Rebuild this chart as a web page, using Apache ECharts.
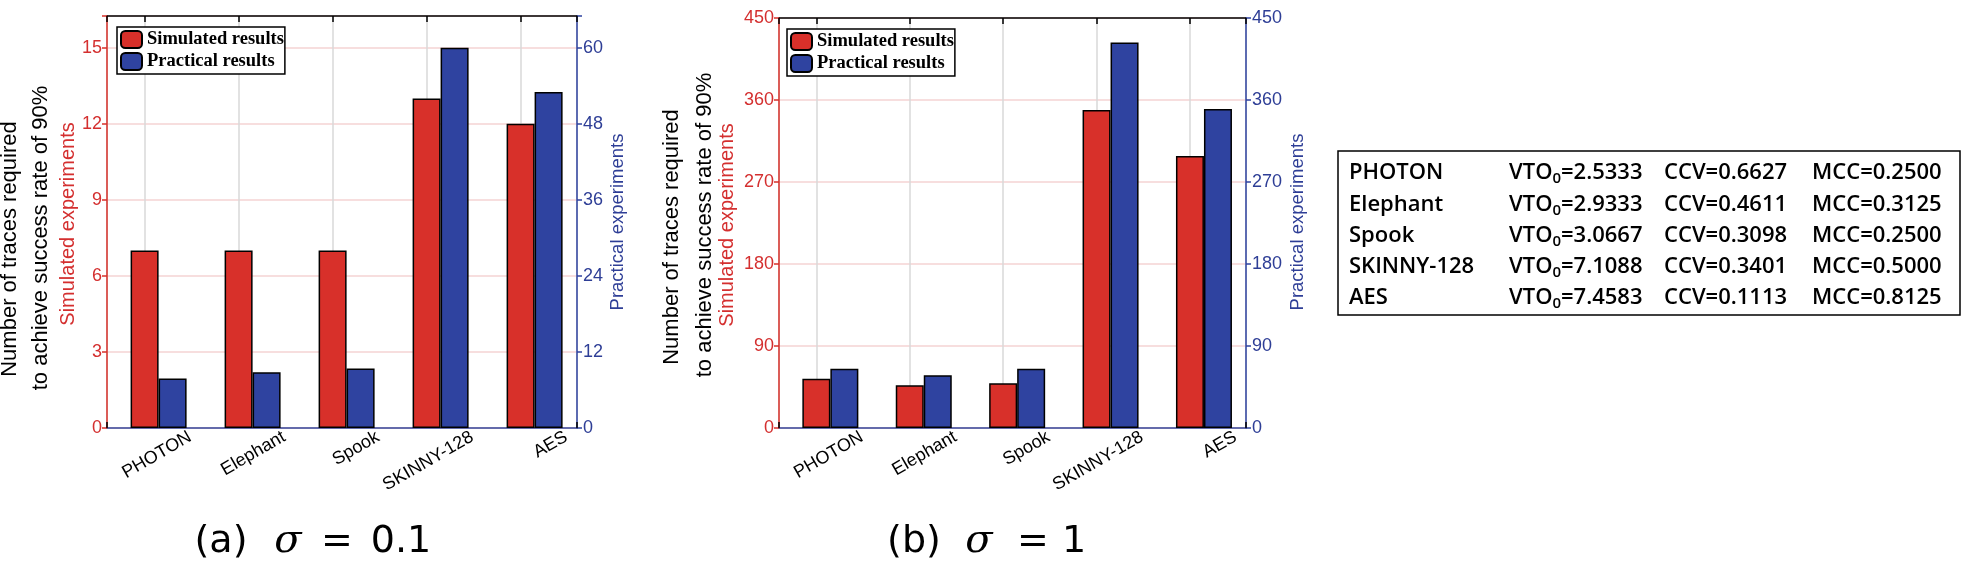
<!DOCTYPE html>
<html><head><meta charset="utf-8">
<script src="https://cdn.jsdelivr.net/npm/echarts@6/dist/echarts.min.js"></script>
<style>html,body{margin:0;padding:0;background:#fff}#c{width:1968px;height:565px}</style>
</head><body><div id="c"></div>
<script>
// ---------- data ----------
const categories = ['PHOTON', 'Elephant', 'Spook', 'SKINNY-128', 'AES'];
// (a) sigma = 0.1
const simA  = [7, 7, 7, 13, 12];
const pracA = [7.8, 8.8, 9.4, 60, 53];
// (b) sigma = 1
const simB  = [54, 47, 49, 349, 298.5];
const pracB = [65, 58, 65, 423, 350];
// axis ranges / tick steps
const leftA  = {max: 16.25, step: 3};
const rightA = {max: 65, step: 12};
const leftB  = {max: 450, step: 90};
const rightB = {max: 450, step: 90};
// side table
const tableNames = ['PHOTON', 'Elephant', 'Spook', 'SKINNY-128', 'AES'];
const vto0 = ['2.5333', '2.9333', '3.0667', '7.1088', '7.4583'];
const ccv  = ['0.6627', '0.4611', '0.3098', '0.3401', '0.1113'];
const mcc  = ['0.2500', '0.3125', '0.2500', '0.5000', '0.8125'];
const legendNames = ['Simulated results', 'Practical results'];
const axisNames = ['Simulated experiments', 'Practical experiments'];
const yTitle = ['Number of traces required', 'to achieve success rate of 90%'];
const captionA = ['(a)', 'σ', '=', '0.1'];
const captionB = ['(b)', 'σ', '=', '1'];

// ---------- styles ----------
const RED = '#d8302a', BLUE = '#2f43a0';
const RED_T = '#d42f2f', BLUE_T = '#2e3e96';
const FONT = 'Liberation Sans, Arial, Helvetica, sans-serif';

function xAxes(grid) {
  return [
    {gridIndex: grid, type: 'value', min: 0.6, max: 5.6, splitNumber: 5, position: 'bottom',
     axisLine: {onZero: false, lineStyle: {color: '#34459a', width: 1.5}},
     axisTick: {show: true, inside: true, length: 6, lineStyle: {color: '#000', width: 1.5}},
     axisLabel: {show: false},
     splitLine: {show: true, lineStyle: {color: '#d9d9d9', width: 1.5}}},
    {gridIndex: grid, type: 'value', min: 0.6, max: 5.6, splitNumber: 5, position: 'top',
     axisLine: {onZero: false, lineStyle: {color: '#000', width: 1.5}},
     axisTick: {show: true, inside: true, length: 6, lineStyle: {color: '#000', width: 1.5}},
     axisLabel: {show: false}, splitLine: {show: false}}
  ];
}
function yAxis(grid, pos, rng, col, tcol, margin, split) {
  return {gridIndex: grid, type: 'value', min: 0, max: rng.max, interval: rng.step, position: pos,
    axisLine: {show: true, onZero: false, lineStyle: {color: col, width: 1.5}},
    axisTick: {show: true, length: 5, lineStyle: {color: col, width: 1.5}},
    axisLabel: {color: tcol, fontSize: 18, fontFamily: FONT, margin: margin,
      formatter: v => (Math.abs(v / rng.step - Math.round(v / rng.step)) < 1e-6 ? String(v) : '')},
    splitLine: {show: split, lineStyle: {color: '#f4d3d3', width: 1.5}}};
}
function bars(xi, yl, yr, sim, prac) {
  const common = {type: 'bar', xAxisIndex: xi, barWidth: 28, barGap: '0%', z: 3};
  return [
    Object.assign({}, common, {name: 'pad', yAxisIndex: yl, data: [], silent: true}),
    Object.assign({}, common, {name: legendNames[0], yAxisIndex: yl,
      data: sim.map((v, i) => [i + 1, v]),
      itemStyle: {color: RED, borderColor: '#000', borderWidth: 1.5}}),
    Object.assign({}, common, {name: legendNames[1], yAxisIndex: yr,
      data: prac.map((v, i) => [i + 1, v]),
      itemStyle: {color: BLUE, borderColor: '#000', borderWidth: 1.5}})
  ];
}
function legend(left, top) {
  return {left: left, top: top, orient: 'vertical', data: legendNames,
    itemWidth: 21, itemHeight: 17, itemGap: 3, padding: [3, 1, 3, 3],
    borderColor: '#000', borderWidth: 1.5, backgroundColor: '#fff', selectedMode: false,
    textStyle: {fontFamily: 'Liberation Serif, Times New Roman, serif', fontWeight: 'bold', fontSize: 18.5, color: '#000'}};
}

// ---------- graphics (text blocks) ----------
const graphic = [];
function vtext(txt, cx, cy, size, color) {
  graphic.push({type: 'text', x: cx, y: cy, rotation: Math.PI / 2,
    style: {text: txt, x: 0, y: 0, align: 'center', verticalAlign: 'middle',
      font: size + 'px ' + FONT, fill: color}});
}
// chart (a) titles
vtext(yTitle[0], 10, 249, 22, '#000');
vtext(yTitle[1], 41, 238, 22, '#000');
vtext(axisNames[0], 68, 224, 20, RED_T);
vtext(axisNames[1], 618, 222, 18.5, BLUE_T);
// chart (b) titles
vtext(yTitle[0], 672, 237, 22, '#000');
vtext(yTitle[1], 705, 225, 22, '#000');
vtext(axisNames[0], 727, 225, 20, RED_T);
vtext(axisNames[1], 1298, 222, 18.5, BLUE_T);

function caption(parts, xs, mid) {
  parts.forEach((p, k) => {
    const italic = k === 1;
    graphic.push({type: 'text', x: xs[k], y: mid,
      style: {text: p, x: 0, y: 0, align: 'center', verticalAlign: 'middle',
        fontFamily: italic ? 'DejaVu Serif, serif' : 'DejaVu Sans, sans-serif',
        fontStyle: italic ? 'italic' : 'normal', fontSize: italic ? 40 : 38, fill: '#000'}});
  });
}
caption(captionA, [221, 288, 337, 401], 542);
caption(captionB, [914, 979, 1033, 1074], 542);

// table
graphic.push({type: 'rect', shape: {x: 1338, y: 151, width: 622, height: 164},
  style: {fill: '#fff', stroke: '#000', lineWidth: 1.5}});
const TF = 'Open Sans, Noto Sans, sans-serif';
const colX = [1349, 1509, 1664, 1812];
const rowY0 = 173, rowStep = 31.3;
tableNames.forEach((n, i) => {
  const y = rowY0 + i * rowStep;
  const base = {fontFamily: TF, fontWeight: 600, fontSize: 22, fill: '#000'};
  graphic.push({type: 'text', x: colX[0], y: y, style: Object.assign({text: n, verticalAlign: 'middle'}, base)});
  graphic.push({type: 'text', x: colX[1], y: y,
    style: {text: '{a|VTO}{s|0}{a|=' + vto0[i] + '}', verticalAlign: 'middle',
      rich: {a: Object.assign({}, base), s: Object.assign({}, base, {fontSize: 15, padding: [12, 0, 0, 0]})}}});
  graphic.push({type: 'text', x: colX[2], y: y, style: Object.assign({text: 'CCV=' + ccv[i], verticalAlign: 'middle'}, base)});
  graphic.push({type: 'text', x: colX[3], y: y, style: Object.assign({text: 'MCC=' + mcc[i], verticalAlign: 'middle'}, base)});
});

const option = {
  animation: false,
  backgroundColor: '#fff',
  grid: [
    {left: 107, top: 16, width: 470, height: 412, containLabel: false, outerBoundsMode: 'none'},
    {left: 779, top: 18, width: 467, height: 410, containLabel: false, outerBoundsMode: 'none'}
  ],
  xAxis: [].concat(xAxes(0), xAxes(1)),
  yAxis: [
    yAxis(0, 'left', leftA, RED, RED_T, 5, true),
    yAxis(0, 'right', rightA, BLUE, BLUE_T, 6, false),
    yAxis(1, 'left', leftB, RED, RED_T, 5, true),
    yAxis(1, 'right', rightB, BLUE, BLUE_T, 6, false)
  ],
  legend: [legend(117, 27), legend(787, 29)],
  series: [].concat(bars(0, 0, 1, simA, pracA), bars(2, 2, 3, simB, pracB)),
  graphic: graphic
};
const chart = echarts.init(document.getElementById('c'), null, {renderer: 'canvas'});
chart.setOption(option);

// rotated category labels (30°), placed at the x-axis tick positions from the library's scale
const tickLabels = [];
[[0, 0], [2, 2]].forEach(([xi, yi]) => {
  const y0 = chart.convertToPixel({yAxisIndex: yi}, 0);
  categories.forEach((c, i) => {
    const px = chart.convertToPixel({xAxisIndex: xi}, i + 1);
    tickLabels.push({type: 'text', x: px + 41, y: y0, rotation: Math.PI / 6,
      style: {text: c, x: 0, y: 0, align: 'right', verticalAlign: 'top',
        font: '18px ' + FONT, fill: '#000'}});
  });
});
chart.setOption({graphic: graphic.concat(tickLabels)});
</script>
</body></html>
